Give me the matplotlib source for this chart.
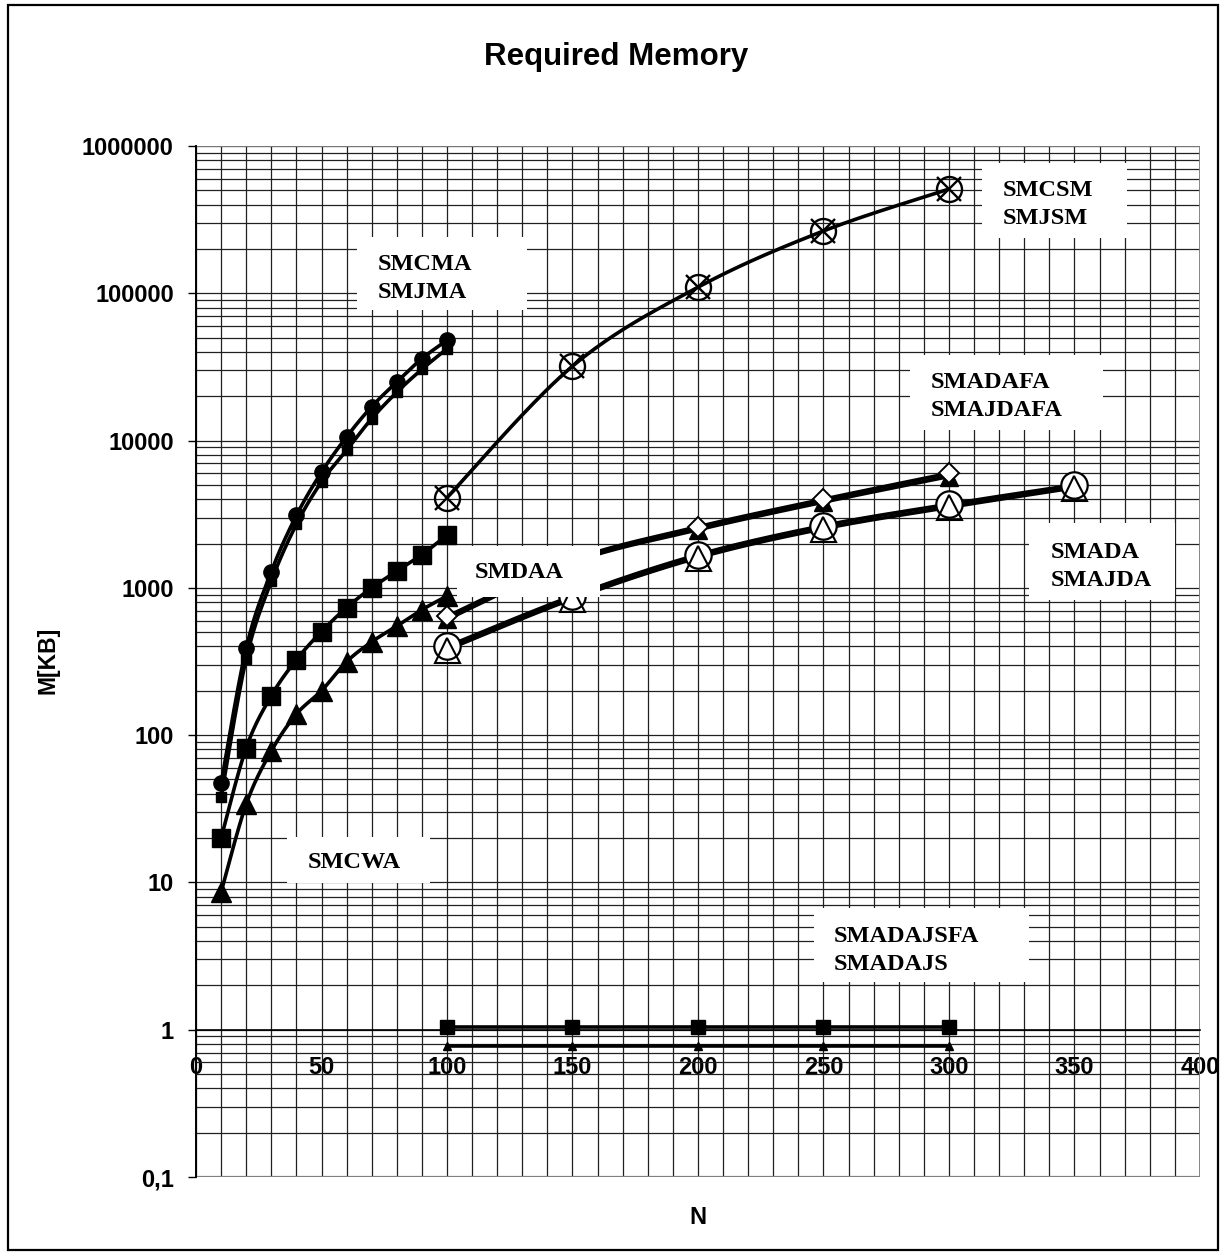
import numpy as np
import matplotlib
matplotlib.use("Agg")
import matplotlib.pyplot as plt
from matplotlib.patches import Rectangle
from matplotlib.ticker import FixedLocator, LogLocator, NullFormatter

# ---- data ----
n_small = [10, 20, 30, 40, 50, 60, 70, 80, 90, 100]
smcma = [47, 390, 1290, 3100, 6100, 10600, 17000, 25000, 36000, 48000]
smjma = [38, 330, 1110, 2700, 5250, 8600, 14100, 21300, 30500, 42000]
smcwa = [20, 82, 185, 325, 505, 735, 1000, 1300, 1680, 2280]
smdaa = [8.6, 34, 78, 139, 200, 315, 430, 550, 710, 880]

n_big = [100, 150, 200, 250, 300]
smcsm = [4100, 32000, 110000, 265000, 510000]
smjsm = [4100, 32000, 110000, 265000, 510000]
smadafa = [640, 1550, 2600, 4000, 6000]
smajdafa = [610, 1490, 2480, 3820, 5700]
smadajsfa = [1.05, 1.05, 1.05, 1.05, 1.05]
smadajs = [0.78, 0.78, 0.78, 0.78, 0.78]

n_da = [100, 150, 200, 250, 300, 350]
smada = [400, 880, 1680, 2650, 3700, 5000]
smajda = [380, 840, 1600, 2520, 3520, 4780]

y_ticks = [0.1, 1, 10, 100, 1000, 10000, 100000, 1000000]
y_labels = ["0,1", "1", "10", "100", "1000", "10000", "100000", "1000000"]
x_ticks = [0, 50, 100, 150, 200, 250, 300, 350, 400]

W, H = 1223, 1254
SANS = "Liberation Sans"
SERIF = "Liberation Serif"


def smooth(xs, ys, n=40):
    # Excel-like smoothed line: cubic bezier through points, in (x, log y)
    P = np.column_stack([np.asarray(xs, float), np.log10(ys)])
    parts = []
    for i in range(len(P) - 1):
        p0 = P[i - 1] if i > 0 else P[i]
        p1, p2 = P[i], P[i + 1]
        p3 = P[i + 2] if i + 2 < len(P) else P[i + 1]
        c1 = p1 + (p2 - p0) / 6
        c2 = p2 - (p3 - p1) / 6
        t = np.linspace(0, 1, n)[:, None]
        seg = (1 - t) ** 3 * p1 + 3 * (1 - t) ** 2 * t * c1 + 3 * (1 - t) * t ** 2 * c2 + t ** 3 * p2
        parts.append(seg if i == 0 else seg[1:])
    seg = np.vstack(parts)
    return seg[:, 0], 10 ** seg[:, 1]


def fx(px):
    return px / W


def fy(py):
    return 1 - py / H


fig = plt.figure(figsize=(W / 100, H / 100), dpi=100)
ax = fig.add_axes([fx(196), fy(1177), (1200 - 196) / W, (1177 - 146) / H])

ax.set_yscale("log")
ax.set_xlim(0, 400)
ax.set_ylim(0.1, 1000000)

# grid
ax.xaxis.set_major_locator(FixedLocator(x_ticks))
ax.xaxis.set_minor_locator(FixedLocator(list(range(0, 401, 10))))
ax.yaxis.set_major_locator(FixedLocator(y_ticks))
ax.yaxis.set_minor_locator(LogLocator(base=10, subs=np.arange(2, 10)))
ax.yaxis.set_minor_formatter(NullFormatter())
ax.set_yticklabels(y_labels)
ax.grid(True, which="both", color="#202020", lw=0.9, zorder=0)
ax.set_axisbelow(True)

ax.spines["top"].set_visible(False)
ax.spines["right"].set_visible(False)
ax.spines["bottom"].set_position(("data", 1))
ax.spines["bottom"].set_linewidth(1.2)
ax.spines["left"].set_linewidth(1.4)
ax.axhline(0.1, color="#808080", lw=1.6, zorder=1)
ax.axvline(400, color="#808080", lw=1.3, zorder=1)
ax.axhline(1000000, color="#808080", lw=1.3, zorder=1)

ax.tick_params(axis="x", which="both", length=0, pad=19)
ax.tick_params(axis="y", which="major", length=6, width=1, direction="out", pad=10)
ax.tick_params(axis="y", which="minor", length=0)
for lab in ax.get_xticklabels() + ax.get_yticklabels():
    lab.set_fontfamily(SANS)
    lab.set_fontweight("bold")
    lab.set_fontsize(17)

LW = 2.6
# lines
for xs, ys in [(n_small, smcma), (n_small, smjma), (n_small, smcwa), (n_small, smdaa),
               (n_big, smcsm), (n_big, smadafa), (n_big, smajdafa), (n_da, smada), (n_da, smajda)]:
    sx, sy = smooth(xs, ys)
    ax.plot(sx, sy, color="black", lw=LW, zorder=2)
ax.plot(n_big, smadajsfa, color="black", lw=LW, zorder=2)
ax.plot(n_big, smadajs, color="black", lw=LW, zorder=2)

# markers
ax.plot(n_small, smcma, "o", ms=11, color="black", zorder=4)
ax.plot(n_small, smjma, "s", ms=6.5, color="black", zorder=4)
ax.plot(n_small, smcwa, "s", ms=13, color="black", zorder=4)
ax.plot(n_small, smdaa, "^", ms=14, color="black", zorder=4)
ax.plot(n_big, smcsm, "o", ms=18, mfc="none", mec="black", mew=1.7, zorder=4)
ax.plot(n_big, smjsm, "x", ms=17, mec="black", mew=1.7, zorder=4)
ax.plot(n_big, smajdafa, "^", ms=13, color="black", zorder=4)
ax.plot(n_big, smadafa, "D", ms=10, mfc="white", mec="black", mew=1.4, zorder=5)
ax.plot(n_da, smada, "o", ms=19, mfc="white", mec="black", mew=1.6, zorder=4)
ax.plot(n_da, smajda, "^", ms=18, mfc="none", mec="black", mew=1.5, zorder=5)
ax.plot(n_big, smadajsfa, "s", ms=9.5, color="black", zorder=4)
ax.plot(n_big, smadajs, "^", ms=6, color="black", zorder=4)

# label boxes (pixel positions: x0, y0, x1, y1, lines, text left x, first line y, line step)
boxes = [
    (357, 237, 527, 310, ["SMCMA", "SMJMA"], 378, 265, 27),
    (982, 163, 1127, 238, ["SMCSM", "SMJSM"], 1003, 190, 28),
    (910, 355, 1103, 430, ["SMADAFA", "SMAJDAFA"], 931, 383, 28),
    (1029, 523, 1175, 600, ["SMADA", "SMAJDA"], 1051, 552, 28),
    (457, 546, 600, 597, ["SMDAA"], 475, 573, 0),
    (287, 837, 430, 883, ["SMCWA"], 308, 862, 0),
    (814, 908, 1029, 982, ["SMADAJSFA", "SMADAJS"], 834, 937, 27),
]
for x0, y0, x1, y1, lines, tx, ty, step in boxes:
    fig.add_artist(Rectangle((fx(x0), fy(y1)), (x1 - x0) / W, (y1 - y0) / H,
                             transform=fig.transFigure, facecolor="white",
                             edgecolor="none", zorder=5))
    for k, line in enumerate(lines):
        fig.text(fx(tx), fy(ty + k * step), line, fontfamily=SERIF, fontweight="bold",
                 fontsize=17.5, ha="left", va="center", zorder=6)

# titles
fig.text(fx(616), fy(57), "Required Memory", fontfamily=SANS, fontweight="bold",
         fontsize=22.5, ha="center", va="center")
fig.text(fx(698), fy(1217), "N", fontfamily=SANS, fontweight="bold",
         fontsize=17, ha="center", va="center")
fig.text(fx(48), fy(660), "M[KB]", fontfamily=SANS, fontweight="bold",
         fontsize=16.5, ha="center", va="center", rotation=90)

# outer border
fig.add_artist(Rectangle((fx(8), fy(1250)), (1218 - 8) / W, (1250 - 5) / H,
                         transform=fig.transFigure, facecolor="none",
                         edgecolor="black", lw=1.6, zorder=7))

fig.savefig("out.png", dpi=100)
